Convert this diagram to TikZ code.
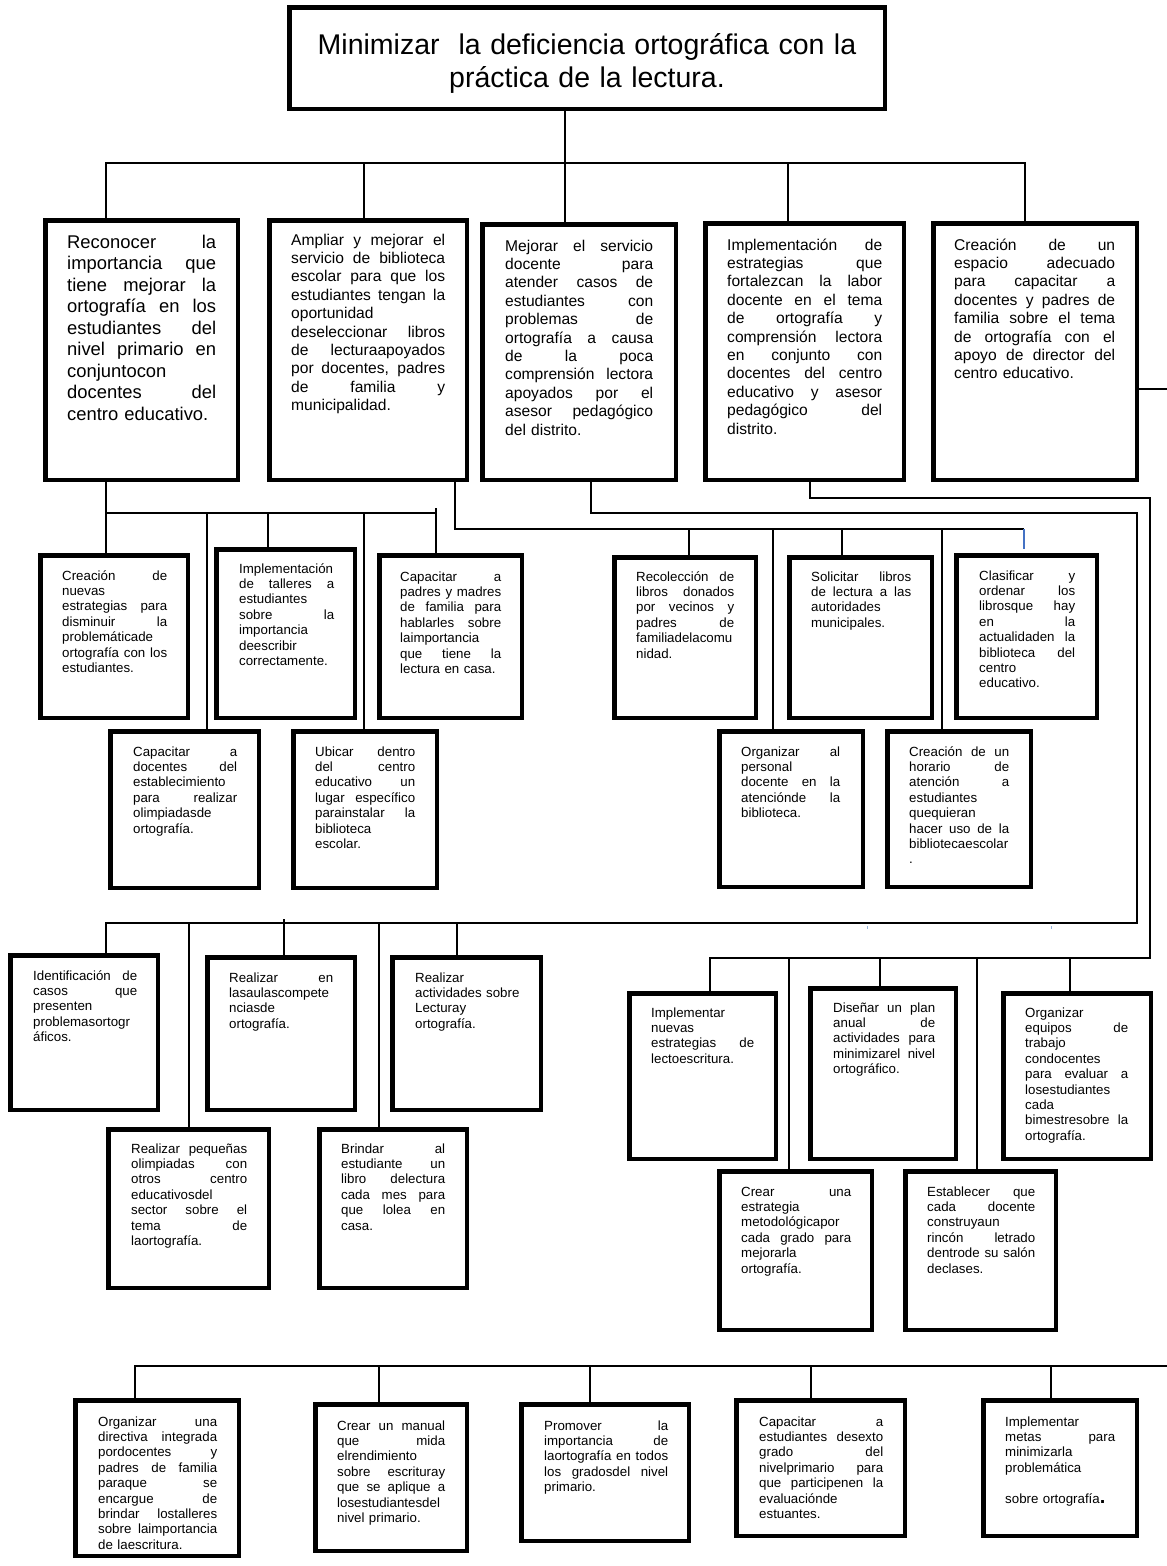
\documentclass[tikz,border=0pt]{standalone}
\usepackage{fontspec}
\setmainfont{Liberation Sans}
\newcommand\JL[1]{\leavevmode\hbox to \hsize{\spaceskip=0.278em plus 1fil\relax #1}}
\newcommand\obox[5]{\node[box, minimum width={#4-#2-4.5}, minimum height={#5-#3-4.5}] (#1) at ({(#2+#4)/2},{(#3+#5)/2}) {};}
\tikzset{
  box/.style={draw=black, line width=4.5pt, fill=white, inner sep=0pt},
  conn/.style={draw=black, line width=1.5pt, line join=miter},
  bluetick/.style={draw={rgb,255:red,68;green,114;blue,196}, line width=1.3pt},
  speck/.style={draw={rgb,255:red,150;green,180;blue,220}, line width=0.8pt},
  txt/.style={anchor=base west, inner sep=0pt, align=left},
  ttl/.style={anchor=base, inner sep=0pt, align=center, text width=590pt, font=\fontsize{28.5}{33}\selectfont},
  tA/.style={txt, font=\fontsize{18.4}{21.5}\selectfont},
  tB/.style={txt, font=\fontsize{15.6}{18.4}\selectfont},
  tC/.style={txt, font=\fontsize{13.3}{15.4}\selectfont},
}
\begin{document}
\begin{tikzpicture}[x=1pt,y=-1pt]
\useasboundingbox (0,0) rectangle (1167,1566);
\fill[white] (0,0) rectangle (1167,1566);

% ---------- boxes ----------
\obox{T}{287}{5}{887}{111}
\obox{B1}{43}{218}{240}{482}
\obox{B2}{267}{218}{469}{482}
\obox{B3}{480}{222}{678}{482}
\obox{B4}{703}{221}{906}{482}
\obox{B5}{931}{221}{1139}{482}
\obox{L2a}{38}{553}{190}{720}
\obox{L2c}{214}{547}{357}{720}
\obox{L2e}{377}{553}{524}{720}
\obox{L2b}{108}{729}{261}{890}
\obox{L2d}{291}{729}{439}{890}
\obox{R2a}{612}{555}{758}{720}
\obox{R2c}{787}{555}{934}{720}
\obox{R2e}{954}{553}{1099}{720}
\obox{R2b}{717}{729}{865}{889}
\obox{R2d}{885}{729}{1033}{889}
\obox{L3a}{8}{953}{160}{1112}
\obox{L3c}{205}{955}{357}{1112}
\obox{L3e}{390}{955}{543}{1112}
\obox{L3b}{106}{1127}{271}{1290}
\obox{L3d}{317}{1127}{469}{1290}
\obox{R3a}{627}{991}{778}{1161}
\obox{R3c}{808}{986}{958}{1161}
\obox{R3e}{1001}{991}{1153}{1161}
\obox{R3b}{717}{1169}{874}{1332}
\obox{R3d}{903}{1169}{1058}{1332}
\obox{Ba}{73}{1398}{241}{1558}
\obox{Bb}{313}{1402}{469}{1553}
\obox{Bc}{519}{1402}{691}{1543}
\obox{Bd}{734}{1398}{907}{1538}
\obox{Be}{981}{1398}{1139}{1538}

% ---------- texts ----------
\node[ttl] (Tt) at (587,54) {Minimizar\ \ la deficiencia ortográfica con la\\práctica de la lectura.};

\node[tA, text width=149pt] (B1t) at (67,248) {\JL{Reconocer la}\\\JL{importancia que}\\\JL{tiene mejorar la}\\\JL{ortografía en los}\\\JL{estudiantes del}\\\JL{nivel primario en}\\conjuntocon\\\JL{docentes del}\\centro educativo.};
\node[tB, text width=154pt] (B2t) at (291,245) {\JL{Ampliar y mejorar el}\\\JL{servicio de biblioteca}\\\JL{escolar para que los}\\\JL{estudiantes tengan la}\\oportunidad\\\JL{deseleccionar libros}\\\JL{de lecturaapoyados}\\\JL{por docentes, padres}\\\JL{de familia y}\\municipalidad.};
\node[tB, text width=148pt] (B3t) at (505,251) {\JL{Mejorar el servicio}\\\JL{docente para}\\\JL{atender casos de}\\\JL{estudiantes con}\\\JL{problemas de}\\\JL{ortografía a causa}\\\JL{de la poca}\\\JL{comprensión lectora}\\\JL{apoyados por el}\\\JL{asesor pedagógico}\\del distrito.};
\node[tB, text width=155pt] (B4t) at (727,250) {\JL{Implementación de}\\\JL{estrategias que}\\\JL{fortalezcan la labor}\\\JL{docente en el tema}\\\JL{de ortografía y}\\\JL{comprensión lectora}\\\JL{en conjunto con}\\\JL{docentes del centro}\\\JL{educativo y asesor}\\\JL{pedagógico del}\\distrito.};
\node[tB, text width=161pt] (B5t) at (954,250) {\JL{Creación de un}\\\JL{espacio adecuado}\\\JL{para capacitar a}\\\JL{docentes y padres de}\\\JL{familia sobre el tema}\\\JL{de ortografía con el}\\\JL{apoyo de director del}\\centro educativo.};

\node[tC, text width=105pt] (L2at) at (62,580) {\JL{Creación de}\\nuevas\\\JL{estrategias para}\\\JL{disminuir la}\\problemáticade\\\JL{ortografía con los}\\estudiantes.};
\node[tC, text width=95pt] (L2ct) at (239,573) {Implementación\\\JL{de talleres a}\\estudiantes\\\JL{sobre la}\\importancia\\deescribir\\correctamente.};
\node[tC, text width=101pt] (L2et) at (400,581) {\JL{Capacitar a}\\\JL{padres y madres}\\\JL{de familia para}\\\JL{hablarles sobre}\\laimportancia\\\JL{que tiene la}\\lectura en casa.};
\node[tC, text width=104pt] (L2bt) at (133,756) {\JL{Capacitar a}\\\JL{docentes del}\\establecimiento\\\JL{para realizar}\\olimpiadasde\\ortografía.};
\node[tC, text width=100pt] (L2dt) at (315,756) {\JL{Ubicar dentro}\\\JL{del centro}\\\JL{educativo un}\\\JL{lugar específico}\\\JL{parainstalar la}\\biblioteca\\escolar.};

\node[tC, text width=98pt] (R2at) at (636,581) {\JL{Recolección de}\\\JL{libros donados}\\\JL{por vecinos y}\\\JL{padres de}\\familiadelacomu\\nidad.};
\node[tC, text width=100pt] (R2ct) at (811,581) {\JL{Solicitar libros}\\\JL{de lectura a las}\\autoridades\\municipales.};
\node[tC, text width=96pt] (R2et) at (979,580) {\JL{Clasificar y}\\\JL{ordenar los}\\\JL{librosque hay}\\\JL{en la}\\\JL{actualidaden la}\\\JL{biblioteca del}\\centro\\educativo.};
\node[tC, text width=99pt] (R2bt) at (741,756) {\JL{Organizar al}\\personal\\\JL{docente en la}\\\JL{atenciónde la}\\biblioteca.};
\node[tC, text width=100pt] (R2dt) at (909,756) {\JL{Creación de un}\\\JL{horario de}\\\JL{atención a}\\estudiantes\\quequieran\\\JL{hacer uso de la}\\bibliotecaescolar\\.};

\node[tC, text width=104pt] (L3at) at (33,980) {\JL{Identificación de}\\\JL{casos que}\\presenten\\problemasortogr\\áficos.};
\node[tC, text width=104pt] (L3ct) at (229,982) {\JL{Realizar en}\\lasaulascompete\\nciasde\\ortografía.};
\node[tC, text width=112pt] (L3et) at (415,982) {Realizar\\actividades sobre\\Lecturay\\ortografía.};
\node[tC, text width=116pt] (L3bt) at (131,1153) {\JL{Realizar pequeñas}\\\JL{olimpiadas con}\\\JL{otros centro}\\educativosdel\\\JL{sector sobre el}\\\JL{tema de}\\laortografía.};
\node[tC, text width=104pt] (L3dt) at (341,1153) {\JL{Brindar al}\\\JL{estudiante un}\\\JL{libro delectura}\\\JL{cada mes para}\\\JL{que lolea en}\\casa.};

\node[tC, text width=103pt] (R3at) at (651,1017) {Implementar\\nuevas\\\JL{estrategias de}\\lectoescritura.};
\node[tC, text width=102pt] (R3ct) at (833,1012) {\JL{Diseñar un plan}\\\JL{anual de}\\\JL{actividades para}\\\JL{minimizarel nivel}\\ortográfico.};
\node[tC, text width=103pt] (R3et) at (1025,1017) {Organizar\\\JL{equipos de}\\trabajo\\condocentes\\\JL{para evaluar a}\\losestudiantes\\cada\\\JL{bimestresobre la}\\ortografía.};
\node[tC, text width=110pt] (R3bt) at (741,1196) {\JL{Crear una}\\estrategia\\metodológicapor\\\JL{cada grado para}\\mejorarla\\ortografía.};
\node[tC, text width=108pt] (R3dt) at (927,1196) {\JL{Establecer que}\\\JL{cada docente}\\construyaun\\\JL{rincón letrado}\\\JL{dentrode su salón}\\declases.};

\node[tC, text width=119pt] (Bat) at (98,1426) {\JL{Organizar una}\\\JL{directiva integrada}\\\JL{pordocentes y}\\\JL{padres de familia}\\\JL{paraque se}\\\JL{encargue de}\\\JL{brindar lostalleres}\\\JL{sobre laimportancia}\\de laescritura.};
\node[tC, text width=108pt] (Bbt) at (337,1430) {\JL{Crear un manual}\\\JL{que mida}\\elrendimiento\\\JL{sobre escrituray}\\\JL{que se aplique a}\\losestudiantesdel\\nivel primario.};
\node[tC, text width=124pt] (Bct) at (544,1430) {\JL{Promover la}\\\JL{importancia de}\\\JL{laortografía en todos}\\\JL{los gradosdel nivel}\\primario.};
\node[tC, text width=124pt] (Bdt) at (759,1426) {\JL{Capacitar a}\\\JL{estudiantes desexto}\\\JL{grado del}\\\JL{nivelprimario para}\\\JL{que participenen la}\\evaluaciónde\\estuantes.};
\node[tC, text width=110pt] (Bet) at (1005,1426) {Implementar\\\JL{metas para}\\minimizarla\\problemática\\[15.4pt]sobre ortografía{\fontsize{20}{20}\selectfont\bfseries .}};

% ---------- connectors ----------
% level 1
\coordinate (t1) at (565,163);
\coordinate (a1) at (106,163);
\coordinate (a2) at (364,163);
\coordinate (a4) at (788,163);
\coordinate (a5) at (1025,163);
\draw[conn] (T.south -| t1) -- (t1 |- B3.north);
\draw[conn] (a1 |- B1.north) -- (a1) -- (a5) -- (a5 |- B5.north);
\draw[conn] (a2) -- (a2 |- B2.north);
\draw[conn] (a4) -- (a4 |- B4.north);
\coordinate (e5) at (1167,389);
\draw[conn] (B5.east |- e5) -- (e5);

% under B1
\coordinate (b1) at (106,513);
\coordinate (b2) at (207,513);
\coordinate (b3) at (268,513);
\coordinate (b4) at (364,513);
\coordinate (b5) at (436,513);
\coordinate (b5t) at (436,508);
\draw[conn] (B1.south -| b1) -- (b1) -- (b5);
\draw[conn] (b1) -- (b1 |- L2a.north);
\draw[conn] (b2) -- (b2 |- L2b.north);
\draw[conn] (b3) -- (b3 |- L2c.north);
\draw[conn] (b4) -- (b4 |- L2d.north);
\draw[conn] (b5t) -- (b5t |- L2e.north);

% under B2
\coordinate (c0) at (455,529);
\coordinate (c1) at (689,529);
\coordinate (c2) at (773,529);
\coordinate (c3) at (842,529);
\coordinate (c4) at (942,529);
\coordinate (c5) at (1024,529);
\coordinate (c5e) at (1024,549);
\draw[conn] (B2.south -| c0) -- (c0) -- (c5);
\draw[conn] (c1) -- (c1 |- R2a.north);
\draw[conn] (c2) -- (c2 |- R2b.north);
\draw[conn] (c3) -- (c3 |- R2c.north);
\draw[conn] (c4) -- (c4 |- R2d.north);
\draw[bluetick] (c5) -- (c5e);

% under B3
\coordinate (f0) at (591,513);
\coordinate (f1) at (1137,513);
\coordinate (f2) at (1137,923);
\coordinate (g0) at (106,923);
\coordinate (g1) at (189,923);
\coordinate (g2) at (284,919);
\coordinate (g3) at (379,923);
\coordinate (g4) at (457,923);
\draw[conn] (B3.south -| f0) -- (f0) -- (f1) -- (f2) -- (g0) -- (g0 |- L3a.north);
\draw[conn] (g1) -- (g1 |- L3b.north);
\draw[conn] (g2) -- (g2 |- L3c.north);
\draw[conn] (g3) -- (g3 |- L3d.north);
\draw[conn] (g4) -- (g4 |- L3e.north);

% under B4
\coordinate (k0) at (810,498);
\coordinate (k1) at (1150,498);
\coordinate (k2) at (1150,958);
\coordinate (m0) at (710,958);
\coordinate (m1) at (789,958);
\coordinate (m2) at (880,958);
\coordinate (m3) at (977,958);
\coordinate (m4) at (1070,958);
\draw[conn] (B4.south -| k0) -- (k0) -- (k1) -- (k2) -- (m0) -- (m0 |- R3a.north);
\draw[conn] (m1) -- (m1 |- R3b.north);
\draw[conn] (m2) -- (m2 |- R3c.north);
\draw[conn] (m3) -- (m3 |- R3d.north);
\draw[conn] (m4) -- (m4 |- R3e.north);

% bottom row
\coordinate (nE) at (1167,1366);
\coordinate (n0) at (135,1366);
\coordinate (n1) at (379,1366);
\coordinate (n2) at (590,1366);
\coordinate (n3) at (811,1366);
\coordinate (n4) at (1051,1366);
\draw[conn] (nE) -- (n0) -- (n0 |- Ba.north);
\draw[conn] (n1) -- (n1 |- Bb.north);
\draw[conn] (n2) -- (n2 |- Bc.north);
\draw[conn] (n3) -- (n3 |- Bd.north);
\draw[conn] (n4) -- (n4 |- Be.north);

% faint specks
\coordinate (s1) at (867,926);
\coordinate (s2) at (1051,926);
\draw[speck] (s1) -- ++(0,3);
\draw[speck] (s2) -- ++(0,3);
\end{tikzpicture}
\end{document}
